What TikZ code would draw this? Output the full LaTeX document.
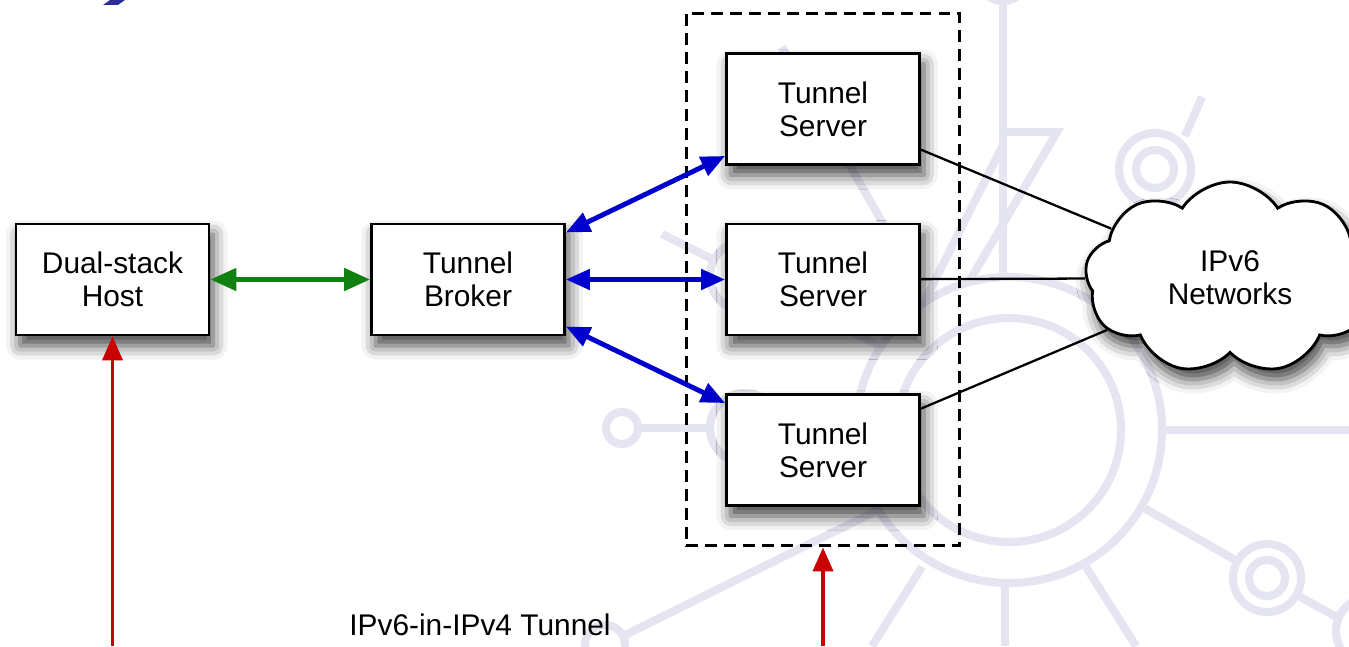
\documentclass[tikz,border=0pt]{standalone}
\usepackage{fontspec}
\setmainfont{Liberation Sans}
\usetikzlibrary{arrows.meta,shapes.symbols,shadows.blur,fit}
\definecolor{wmark}{RGB}{229,229,242}
\definecolor{slideblue}{RGB}{46,46,150}
\definecolor{tunblue}{RGB}{0,0,204}
\definecolor{tungreen}{RGB}{16,128,16}
\definecolor{tunred}{RGB}{200,0,0}
\tikzset{
  softshadow/.style={blur shadow={shadow xshift=1.2pt,shadow yshift=-3pt,
    shadow blur radius=4pt,shadow opacity=75}},
  box/.style={draw,line width=0.8pt,fill=white,minimum width=1.93cm,
    minimum height=1.11cm,inner sep=0pt,align=center,softshadow},
  net/.style={cloud,cloud puffs=9,cloud puff arc=115,cloud ignores aspect,
    draw,line width=0.8pt,fill=white,minimum width=2.9cm,
    minimum height=1.92cm,align=center,softshadow},
  pool/.style={draw,line width=0.85pt,dash pattern=on 3.4pt off 2pt,inner sep=0.39cm},
  wm/.style={wmark,line width=2.3pt}
}
\begin{document}
\begin{tikzpicture}[x=1cm,y=1cm,font=\fontsize{8.5}{9.4}\selectfont,
  dual/.style={{Triangle[length=0.26cm,width=0.22cm]}-{Triangle[length=0.26cm,width=0.22cm]},
    line width=1.4pt,tungreen},
  tunnel/.style={{Triangle[length=0.24cm,width=0.2cm]}-{Triangle[length=0.24cm,width=0.2cm]},
    line width=1.4pt,tunblue},
  link/.style={line width=0.65pt},
  feed/.style={-{Triangle[length=0.24cm,width=0.2cm]},line width=1.1pt,tunred}]
\useasboundingbox (0,0) rectangle (13.49,6.46);

% background of the slide
\begin{scope}
\clip (0,0) rectangle (13.49,6.46);
\draw[wm] (10.09,2.16) circle [radius=1.12] (10.09,2.16) circle [radius=1.53];
\draw[wm] (10.03,6.70) circle [radius=0.25];
\draw[wm] (10.03,6.45) -- (10.03,3.69);
\draw[wm] (10.03,5.14) -- (10.57,5.14) -- (9.70,3.66);
\draw[wm] (10.03,5.01) -- (9.25,3.46);
\draw[wm] (7.82,5.99) -- (9.05,3.84);
\draw[wm] (11.62,2.16) -- (13.49,2.16);
\draw[wm] (9.22,0.79) -- (8.72,0);
\draw[wm] (10.05,0.63) -- (10.05,0);
\draw[wm] (10.86,0.79) -- (11.36,0);
\draw[wm] (11.44,1.38) -- (12.37,0.85);
\draw[wm] (12.67,0.68) circle [radius=0.34] (12.67,0.68) circle [radius=0.18];
\draw[wm] (12.97,0.51) -- (13.40,0.27);
\draw[wm] (13.70,0.15) circle [radius=0.34];
\draw[wm] (11.55,4.77) circle [radius=0.36] (11.55,4.77) circle [radius=0.19];
\draw[wm] (11.85,5.10) -- (12.02,5.49);
\draw[wm] (6.22,2.18) circle [radius=0.16];
\draw[wm] (6.38,2.18) -- (7.10,2.18);
\draw[wm] (7.45,2.18) circle [radius=0.35];
\draw[wm] (7.45,3.70) circle [radius=0.35];
\draw[wm] (7.14,3.86) -- (6.62,4.12);
\draw[wm] (7.76,3.54) -- (8.82,2.99);
\draw[wm] (8.80,1.37) -- (6.23,0.10);
\draw[wm] (6.05,0.01) circle [radius=0.2];
\fill[slideblue] (1.03,6.41) -- (1.10,6.46) -- (1.25,6.46) -- (1.18,6.41) -- cycle;
\end{scope}

\node[box] (host) at (1.125,3.665) {Dual-stack\\Host};
\node[box] (broker) at (4.68,3.665) {Tunnel\\Broker};
\foreach \n/\y in {1/5.37,2/3.665,3/1.96}
  \node[box] (ts\n) at (8.23,\y) {Tunnel\\Server};
\node[pool,fit=(ts1)(ts3)] (pool) {};
\node[net] (net) at (12.30,3.68) {IPv6\\Networks};
\node (label) at (4.80,0.21) {IPv6-in-IPv4 Tunnel};

\coordinate (bottom) at (0,0);
\coordinate (hostin) at (host.south |- bottom);
\coordinate (poolin) at (pool.south |- bottom);

\draw[dual] (host) -- (broker);
\foreach \n in {1,2,3}
{
  \draw[tunnel] (broker) -- (ts\n);
  \draw[link] (ts\n) -- (net);
}
\draw[feed] (hostin) -- (host);
\draw[feed] (poolin) -- (pool);
\end{tikzpicture}
\end{document}
